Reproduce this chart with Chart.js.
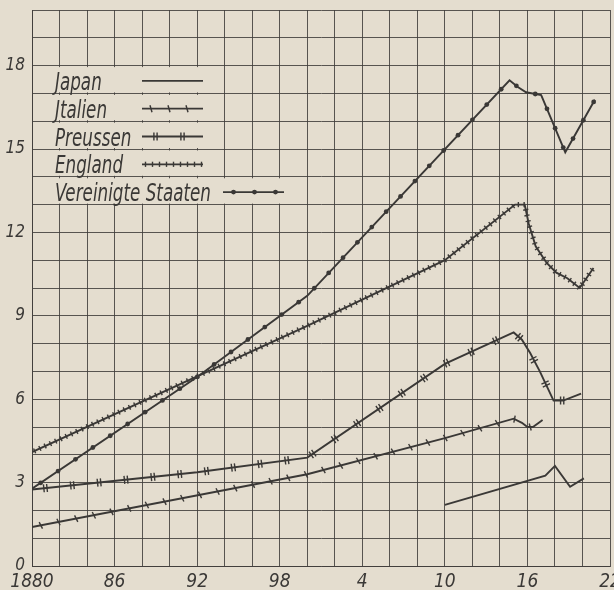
<!DOCTYPE html>
<html>
<head>
<meta charset="utf-8">
<script src="https://cdn.jsdelivr.net/npm/chart.js@4.4.1/dist/chart.umd.min.js"></script>
<style>
html, body { margin: 0; padding: 0; background: #e4ddcf; }
#wrap { width: 614px; height: 590px; }
</style>
</head>
<body>
<div id="wrap"><canvas id="chart"></canvas></div>
<script>
// series (year, value)
const japanYears = [1910, 1917.3, 1918, 1919.1, 1920.1];
const japanValues = [2.2, 3.25, 3.6, 2.85, 3.15];

const italyYears = [1880, 1900, 1910, 1915, 1915.6, 1916, 1916.4, 1917.1];
const italyValues = [1.4, 3.3, 4.6, 5.3, 5.15, 5.0, 5.0, 5.25];

const prussiaYears = [1880, 1892, 1900, 1910, 1915, 1915.6, 1916.2, 1916.9, 1917.9, 1918.6, 1919.9];
const prussiaValues = [2.75, 3.37, 3.9, 7.27, 8.4, 8.14, 7.66, 7.0, 5.95, 5.95, 6.2];

const englandYears = [1880, 1900, 1910, 1915.1, 1915.8, 1916.1, 1916.6, 1917.4, 1918.1, 1918.9, 1919.8, 1920.8];
const englandValues = [4.1, 8.64, 11.0, 13.0, 13.0, 12.3, 11.5, 10.9, 10.55, 10.35, 10.0, 10.72];

const usYears = [1880, 1892, 1900, 1914.7, 1915.3, 1915.9, 1917.0, 1918.75, 1920.9];
const usValues = [2.78, 6.8, 9.72, 17.47, 17.23, 17.04, 16.94, 14.88, 16.77];

const seriesNames = ['Japan', 'Jtalien', 'Preussen', 'England', 'Vereinigte Staaten'];
const xTickLabels = ['1880', '86', '92', '98', '4', '10', '16', '22'];
const yTickLabels = ['0', '3', '6', '9', '12', '15', '18'];

const INK = '#3a3836';
const PAPER = '#e4ddcf';
const GRID = 'rgba(62,60,57,0.85)';
const FONT = "'DejaVu Sans Condensed', 'DejaVu Sans', sans-serif";

function pairs(xs, ys) {
	return xs.map((x, i) => ({ x: x, y: ys[i] }));
}

// draw one marker at p, u = direction of the line, n = normal
function mark(ctx, kind, px, py, ux, uy, nx, ny) {
	ctx.beginPath();
	if (kind === 'tick') {
		ctx.moveTo(px - nx * 3.5 - ux * 1, py - ny * 3.5 - uy * 1);
		ctx.lineTo(px + nx * 3.5 + ux * 1, py + ny * 3.5 + uy * 1);
		ctx.stroke();
	} else if (kind === 'double') {
		for (const o of [-1.6, 1.6]) {
			ctx.moveTo(px + ux * o - nx * 4, py + uy * o - ny * 4);
			ctx.lineTo(px + ux * o + nx * 4, py + uy * o + ny * 4);
		}
		ctx.stroke();
	} else if (kind === 'dense') {
		ctx.moveTo(px - nx * 2.6, py - ny * 2.6);
		ctx.lineTo(px + nx * 2.6, py + ny * 2.6);
		ctx.stroke();
	} else if (kind === 'dot') {
		ctx.arc(px, py, 2.4, 0, Math.PI * 2);
		ctx.fill();
	}
}

function markPath(ctx, pts, kind, gap) {
	if (kind === 'none') return;
	let carry = gap / 2;
	for (let i = 0; i < pts.length - 1; i++) {
		const dx = pts[i + 1].x - pts[i].x, dy = pts[i + 1].y - pts[i].y;
		const len = Math.hypot(dx, dy);
		if (!len) continue;
		const ux = dx / len, uy = dy / len;
		let d = carry;
		while (d < len) {
			mark(ctx, kind, pts[i].x + ux * d, pts[i].y + uy * d, ux, uy, -uy, ux);
			d += gap;
		}
		carry = d - len;
	}
}

const paperPlugin = {
	id: 'paper',
	beforeDraw(chart) {
		const ctx = chart.ctx;
		ctx.save();
		ctx.fillStyle = PAPER;
		ctx.fillRect(0, 0, chart.width, chart.height);
		ctx.restore();
	}
};

// legend block hides the vertical rules behind it, horizontals stay
const legendPlugin = {
	id: 'plateLegend',
	beforeDatasetsDraw(chart) {
		const ctx = chart.ctx, xs = chart.scales.x, ys = chart.scales.y;
		const l = xs.getPixelForValue(1880) + 1.5;
		ctx.save();
		ctx.fillStyle = PAPER;
		// bands between horizontal rules, so those rules are left alone
		for (let v = 14; v < 18; v++) {
			const top = ys.getPixelForValue(v + 1) + 1.5, bot = ys.getPixelForValue(v) - 1;
			ctx.fillRect(l, top, xs.getPixelForValue(1894) - 1.5 - l, bot - top);
		}
		const top = ys.getPixelForValue(14) + 1.5, bot = ys.getPixelForValue(13) - 1;
		ctx.fillRect(l, top, xs.getPixelForValue(1900) - 1.5 - l, bot - top);
		ctx.restore();
	},
	afterDatasetsDraw(chart) {
		const ctx = chart.ctx;
		ctx.save();
		ctx.beginPath();
		ctx.rect(chart.chartArea.left, chart.chartArea.top, chart.chartArea.width, chart.chartArea.height);
		ctx.clip();
		ctx.strokeStyle = INK;
		ctx.fillStyle = INK;
		ctx.lineWidth = 1.4;
		chart.data.datasets.forEach((ds, i) => {
			const pts = chart.getDatasetMeta(i).data.map(p => ({ x: p.x, y: p.y }));
			markPath(ctx, pts, ds.mark, ds.gap);
		});
		ctx.restore();
	},
	afterDraw(chart) {
		const ctx = chart.ctx, ys = chart.scales.y;
		ctx.save();
		ctx.fillStyle = INK;
		ctx.strokeStyle = INK;
		ctx.font = 'italic 25px ' + FONT;
		ctx.textBaseline = 'alphabetic';
		// the plate's lettering is a tall narrow face: squeeze horizontally
		const k = 156 / ctx.measureText(seriesNames[4]).width;
		chart.data.datasets.forEach((ds, i) => {
			const base = ys.getPixelForValue(17 - i) - 3.5;
			ctx.save();
			ctx.translate(55, base);
			ctx.scale(k, 1);
			ctx.fillText(ds.label, 0, 0);
			ctx.restore();
			const x0 = i === 4 ? 223 : 142, x1 = i === 4 ? 284 : 203;
			const y = base - 9;
			ctx.lineWidth = 1.8;
			ctx.beginPath();
			ctx.moveTo(x0, y);
			ctx.lineTo(x1, y);
			ctx.stroke();
			ctx.lineWidth = 1.4;
			markPath(ctx, [{ x: x0, y: y }, { x: x1, y: y }], ds.mark, ds.mark === 'dense' ? 7 : ds.gap);
		});
		ctx.restore();
	}
};

function series(i, xs, ys, kind, gap) {
	return {
		label: seriesNames[i],
		data: pairs(xs, ys),
		borderColor: INK,
		borderWidth: 1.9,
		pointRadius: 0,
		tension: 0,
		fill: false,
		mark: kind,
		gap: gap
	};
}

new Chart(document.getElementById('chart'), {
	type: 'line',
	data: {
		datasets: [
			series(0, japanYears, japanValues, 'none', 0),
			series(1, italyYears, italyValues, 'tick', 18),
			series(2, prussiaYears, prussiaValues, 'double', 27),
			series(3, englandYears, englandValues, 'dense', 5.8),
			series(4, usYears, usValues, 'dot', 21)
		]
	},
	options: {
		responsive: true,
		maintainAspectRatio: false,
		animation: false,
		devicePixelRatio: 1,
		layout: { padding: { top: 10, right: 4, left: 0, bottom: 0 } },
		plugins: { legend: { display: false }, tooltip: { enabled: false } },
		scales: {
			x: {
				type: 'linear',
				min: 1880,
				max: 1922,
				afterFit: s => { s.height = 24; s.paddingLeft = 0; s.paddingRight = 0; },
				grid: { color: GRID, lineWidth: 1, drawTicks: false },
				border: { color: GRID, width: 1 },
				ticks: {
					stepSize: 2,
					autoSkip: false,
					maxRotation: 0,
					padding: 5,
					color: INK,
					font: { family: FONT, size: 19, style: 'italic' },
					callback: v => (v - 1880) % 6 === 0 ? xTickLabels[(v - 1880) / 6] : ''
				}
			},
			y: {
				min: 0,
				max: 20,
				afterFit: s => { s.width = 32; s.paddingTop = 0; s.paddingBottom = 0; },
				grid: { color: GRID, lineWidth: 1, drawTicks: false },
				border: { color: GRID, width: 1 },
				ticks: {
					stepSize: 1,
					autoSkip: false,
					padding: 7,
					color: INK,
					font: { family: FONT, size: 17, style: 'italic' },
					callback: v => v % 3 === 0 ? yTickLabels[v / 3] : ''
				}
			}
		}
	},
	plugins: [paperPlugin, legendPlugin]
});
</script>
</body>
</html>
